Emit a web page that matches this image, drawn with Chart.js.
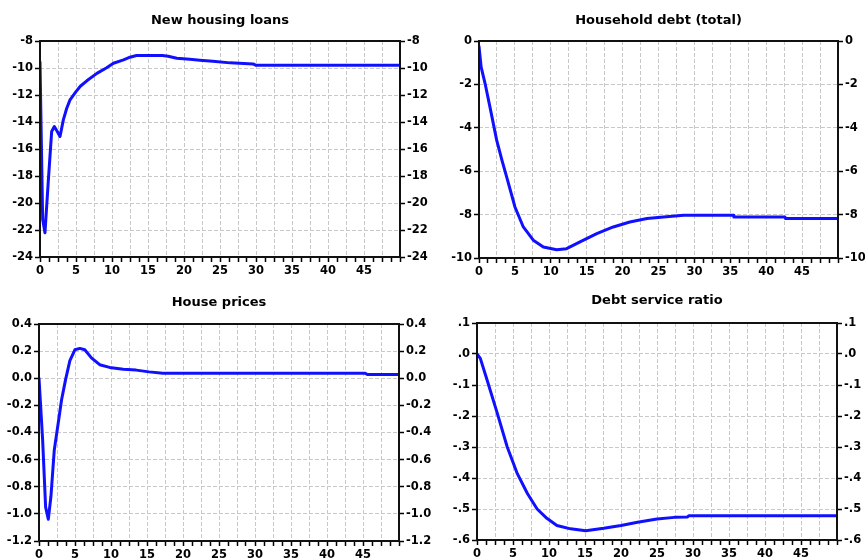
<!DOCTYPE html>
<html>
<head>
<meta charset="utf-8">
<title>Impulse responses</title>
<script src="https://cdn.jsdelivr.net/npm/chart.js@4.4.1/dist/chart.umd.min.js"></script>
<style>
  html, body { margin: 0; padding: 0; background: #fff; }
  #wrap { position: relative; width: 865px; height: 560px; overflow: hidden; background: #fff; }
  #wrap canvas { position: absolute; }
</style>
</head>
<body>
<div id="wrap">
  <canvas id="loans"  width="440" height="280" style="left:0;top:0"></canvas>
  <canvas id="debt"   width="425" height="280" style="left:440px;top:0"></canvas>
  <canvas id="prices" width="440" height="280" style="left:0;top:280px"></canvas>
  <canvas id="dsr"    width="425" height="280" style="left:440px;top:280px"></canvas>
</div>
<script>
// Horizon shared by the four panels
const xLabels = [0, 5, 10, 15, 20, 25, 30, 35, 40, 45];
const xEnd = 50;

// New housing loans
const loansX = [0, 0.37, 0.69, 1.15, 1.62, 1.99, 2.4, 2.78, 3.24, 3.7, 4.17, 5.0, 5.6, 6.5, 7.9, 9.2, 10.2, 11.6, 12.5, 13.4, 15.0, 17.0, 17.8, 19.0, 20.8, 22.2, 24.0, 26.4, 29.6, 30.0, 50];
const loansY = [-9.55, -21.2, -22.2, -18.4, -14.7, -14.33, -14.7, -15.07, -13.84, -13.0, -12.36, -11.75, -11.35, -10.95, -10.4, -10.0, -9.65, -9.4, -9.2, -9.08, -9.08, -9.08, -9.13, -9.28, -9.35, -9.42, -9.5, -9.62, -9.7, -9.8, -9.8];
const loansTicks = [-8, -10, -12, -14, -16, -18, -20, -22, -24];
const loansTickLabels = ['-8', '-10', '-12', '-14', '-16', '-18', '-20', '-22', '-24'];

// Household debt (total)
const debtX = [0, 0.3, 0.84, 1.5, 2.46, 3.2, 3.85, 5.01, 6.17, 7.56, 8.96, 10.82, 12.2, 14.07, 16.4, 18.7, 21.0, 23.4, 25.7, 28.5, 35.4, 35.5, 42.6, 42.7, 50];
const debtY = [-0.25, -1.2, -1.95, -3.0, -4.57, -5.5, -6.26, -7.65, -8.57, -9.18, -9.49, -9.62, -9.57, -9.26, -8.88, -8.57, -8.34, -8.18, -8.11, -8.03, -8.03, -8.11, -8.11, -8.18, -8.18];
const debtTicks = [0, -2, -4, -6, -8, -10];
const debtTickLabels = ['0', '-2', '-4', '-6', '-8', '-10'];

// House prices
const pricesX = [0, 0.5, 0.92, 1.29, 1.66, 2.12, 2.67, 3.13, 3.69, 4.29, 4.98, 5.67, 6.36, 7.28, 8.43, 9.8, 11.7, 13.5, 15.3, 17.2, 45.3, 45.6, 50];
const pricesY = [0.0, -0.45, -0.95, -1.04, -0.87, -0.53, -0.33, -0.16, -0.01, 0.13, 0.21, 0.22, 0.21, 0.15, 0.10, 0.08, 0.067, 0.06, 0.047, 0.037, 0.037, 0.027, 0.027];
const pricesTicks = [0.4, 0.2, 0.0, -0.2, -0.4, -0.6, -0.8, -1.0, -1.2];
const pricesTickLabels = ['0.4', '0.2', '0.0', '-0.2', '-0.4', '-0.6', '-0.8', '-1.0', '-1.2'];

// Debt service ratio
const dsrX = [0, 0.46, 1.4, 2.8, 4.2, 5.6, 7.0, 8.35, 9.7, 11.1, 13.0, 15.1, 17.6, 20.0, 22.3, 25.0, 27.4, 29.2, 29.4, 50];
const dsrY = [0.0, -0.014, -0.084, -0.19, -0.30, -0.386, -0.45, -0.50, -0.53, -0.553, -0.564, -0.57, -0.562, -0.553, -0.543, -0.532, -0.527, -0.526, -0.522, -0.522];
const dsrTicks = [0.1, 0.0, -0.1, -0.2, -0.3, -0.4, -0.5, -0.6];
const dsrTickLabels = ['.1', '.0', '-.1', '-.2', '-.3', '-.4', '-.5', '-.6'];

const INK = '#000';
const GRID = '#c8c8c8';
const LINE = '#1010ff';
const tickFont = { family: 'DejaVu Sans', size: 11.5, weight: 'bold' };

// closed frame around the plotting area
const framePlugin = {
  id: 'frame',
  afterDraw(chart) {
    const a = chart.chartArea, ctx = chart.ctx;
    ctx.save();
    ctx.strokeStyle = '#111';
    ctx.lineWidth = 2;
    ctx.strokeRect(a.left, a.top, a.right - a.left, a.bottom - a.top);
    ctx.restore();
  }
};

function near(a, b) { return Math.abs(a - b) < 1e-6; }

function makePanel(id, title, xs, ys, ticks, tickLabels, box) {
  const points = xs.map((x, i) => ({ x: x, y: ys[i] }));
  const yMin = Math.min(...ticks), yMax = Math.max(...ticks);
  const labelFor = v => {
    const i = ticks.findIndex(t => near(t, v));
    return i >= 0 ? tickLabels[i] : '';
  };
  const setYTicks = s => { s.ticks = ticks.map(v => ({ value: v })); };
  const minorX = [];
  for (let k = 0; k <= 40; k++) minorX.push(k * 1.25);

  const yBase = (pos, width, onArea) => ({
    type: 'linear',
    position: pos,
    min: yMin, max: yMax,
    afterBuildTicks: setYTicks,
    afterFit: s => { s.width = width; },
    border: { display: false, dash: [4, 2] },
    grid: {
      drawOnChartArea: onArea,
      color: c => (c.tick && (near(c.tick.value, yMin) || near(c.tick.value, yMax))) ? 'rgba(0,0,0,0)' : GRID,
      lineWidth: 1,
      tickLength: 5,
      tickColor: INK,
      tickWidth: 1.5,
      tickBorderDash: []
    },
    ticks: {
      color: INK, font: tickFont, padding: 2,
      autoSkip: false,
      callback: v => labelFor(v)
    }
  });

  return new Chart(document.getElementById(id), {
    type: 'line',
    data: {
      datasets: [{
        data: points,
        borderColor: LINE,
        borderWidth: 3,
        pointRadius: 0,
        tension: 0,
        borderJoinStyle: 'round',
        borderCapStyle: 'round',
        fill: false
      }]
    },
    options: {
      responsive: false,
      animation: false,
      devicePixelRatio: 1,
      events: [],
      layout: { padding: 0 },
      plugins: {
        legend: { display: false },
        tooltip: { enabled: false },
        title: {
          display: true,
          text: title,
          color: INK,
          fullSize: false,
          font: { family: 'DejaVu Sans', size: 13, weight: 'bold', lineHeight: 1.2 },
          padding: { top: box.titleTop, bottom: box.top - box.titleTop - 15.6 }
        }
      },
      scales: {
        x: {
          type: 'linear',
          position: 'bottom',
          min: 0, max: xEnd,
          afterBuildTicks: s => { s.ticks = minorX.map(v => ({ value: v })); },
          afterFit: s => { s.height = box.bottom; },
          border: { display: false, dash: [4, 2] },
          grid: {
            color: c => {
              const v = c.tick ? c.tick.value : 0;
              const onGrid = Math.abs(v / 2.5 - Math.round(v / 2.5)) < 1e-6;
              return (onGrid && v > 0 && v < xEnd) ? GRID : 'rgba(0,0,0,0)';
            },
            lineWidth: 1,
            tickLength: 5,
            tickColor: INK,
            tickWidth: 1.5,
            tickBorderDash: []
          },
          ticks: {
            color: INK, font: tickFont, padding: 2,
            autoSkip: false, maxRotation: 0, minRotation: 0,
            callback: v => xLabels.some(l => near(l, v)) ? String(Math.round(v)) : ''
          }
        },
        y: yBase('left', box.left, true),
        y2: yBase('right', box.right, false)
      }
    },
    plugins: [framePlugin]
  });
}

makePanel('loans',  'New housing loans',      loansX,  loansY,  loansTicks,  loansTickLabels,
  { left: 40, right: 40, top: 41, bottom: 23, titleTop: 12.9 });
makePanel('debt',   'Household debt (total)', debtX,   debtY,   debtTicks,   debtTickLabels,
  { left: 39, right: 27, top: 41, bottom: 22, titleTop: 12.9 });
makePanel('prices', 'House prices',           pricesX, pricesY, pricesTicks, pricesTickLabels,
  { left: 39, right: 41, top: 44, bottom: 19, titleTop: 14.9 });
makePanel('dsr',    'Debt service ratio',     dsrX,    dsrY,    dsrTicks,    dsrTickLabels,
  { left: 37, right: 28, top: 43, bottom: 20, titleTop: 12.9 });
</script>
</body>
</html>
